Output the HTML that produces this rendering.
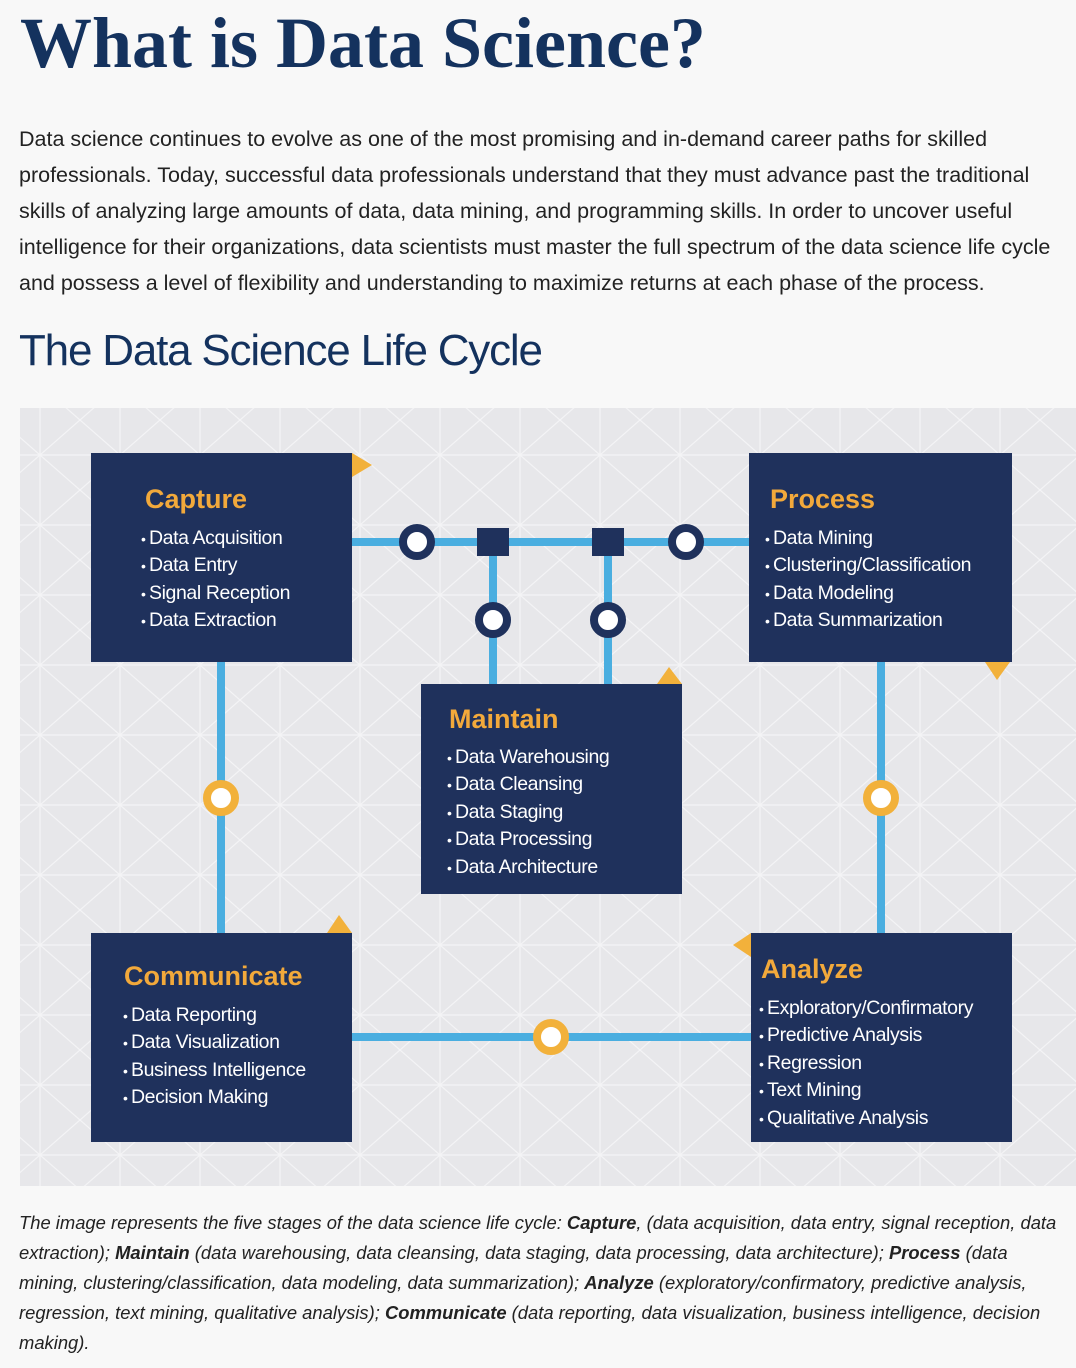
<!DOCTYPE html>
<html><head><meta charset="utf-8"><style>
body{margin:0;width:1076px;height:1368px;background:#f8f8f8;position:relative;overflow:hidden;font-family:"Liberation Sans",sans-serif;}
.a{position:absolute;white-space:nowrap;}
h1{position:absolute;left:20px;top:2px;margin:0;font-family:"Liberation Serif",serif;font-weight:bold;font-size:72px;color:#14325e;letter-spacing:0;}
h2{position:absolute;left:19px;top:326px;margin:0;font-weight:normal;font-size:44px;color:#14325e;letter-spacing:-1.2px;}
.p{left:19px;font-size:21.5px;color:#222;letter-spacing:0;}
.c{left:19px;font-size:18.4px;color:#222;font-style:italic;letter-spacing:0;}
.box{position:absolute;background:#1f315c;color:#fff;}
.box .t{position:absolute;color:#f2a93b;font-weight:bold;font-size:27px;}
.box ul{position:absolute;margin:0;padding:0;list-style:none;font-size:19.5px;line-height:27.4px;letter-spacing:-0.4px;}
.box li{height:27.4px;}
.box li:before{content:"• ";font-size:14px;line-height:0;}
</style></head><body>
<h1>What is Data Science?</h1>
<div class="a p" style="top:127px">Data science continues to evolve as one of the most promising and in-demand career paths for skilled</div>
<div class="a p" style="top:163px">professionals. Today, successful data professionals understand that they must advance past the traditional</div>
<div class="a p" style="top:199px">skills of analyzing large amounts of data, data mining, and programming skills. In order to uncover useful</div>
<div class="a p" style="top:235px">intelligence for their organizations, data scientists must master the full spectrum of the data science life cycle</div>
<div class="a p" style="top:271px">and possess a level of flexibility and understanding to maximize returns at each phase of the process.</div>
<h2>The Data Science Life Cycle</h2>
<svg class="a" style="left:20px;top:408px" width="1056" height="778" viewBox="20 408 1056 778">
<defs><pattern id="pt" width="80" height="70" patternUnits="userSpaceOnUse"><path d="M0 0L80 70M80 0L0 70M40 0L40 70M0 35L80 35" stroke="#f4f4f6" stroke-width="1.2" fill="none"/></pattern></defs>
<rect x="20" y="408" width="1056" height="778" fill="#e7e7ea"/>
<rect x="20" y="408" width="1056" height="778" fill="url(#pt)"/>
<g stroke="#4aaee0" stroke-width="8" fill="none">
<path d="M352 542H749M493 542V684M608 542V684M221 662V933M881 662V933M352 1037H751"/>
</g>
<rect x="477" y="528" width="32" height="28" fill="#1f315c"/>
<rect x="592" y="528" width="32" height="28" fill="#1f315c"/>
<g fill="#fff" stroke="#1f315c" stroke-width="8">
<circle cx="417" cy="542" r="14"/><circle cx="686" cy="542" r="14"/>
<circle cx="493" cy="620" r="14"/><circle cx="608" cy="620" r="14"/>
</g>
<g fill="#fff" stroke="#f2b13b" stroke-width="8">
<circle cx="221" cy="798" r="14"/><circle cx="881" cy="798" r="14"/><circle cx="551" cy="1037" r="14"/>
</g>
<g fill="#f2b13b">
<path d="M352 453L372 465L352 477Z"/>
<path d="M985 662L1010 662L997 680Z"/>
<path d="M657 684L682 684L669 667Z"/>
<path d="M327 933L352 933L339 915Z"/>
<path d="M751 933L751 957L733 945Z"/>
</g>
</svg>
<div class="box" style="left:91px;top:453px;width:261px;height:209px"><div class="t" style="left:54px;top:31px">Capture</div><ul style="left:50px;top:72px"><li>Data Acquisition</li><li>Data Entry</li><li>Signal Reception</li><li>Data Extraction</li></ul></div>
<div class="box" style="left:749px;top:453px;width:263px;height:209px"><div class="t" style="left:21px;top:31px">Process</div><ul style="left:16px;top:72px"><li>Data Mining</li><li>Clustering/Classification</li><li>Data Modeling</li><li>Data Summarization</li></ul></div>
<div class="box" style="left:421px;top:684px;width:261px;height:210px"><div class="t" style="left:28px;top:20px">Maintain</div><ul style="left:26px;top:60px"><li>Data Warehousing</li><li>Data Cleansing</li><li>Data Staging</li><li>Data Processing</li><li>Data Architecture</li></ul></div>
<div class="box" style="left:91px;top:933px;width:261px;height:209px"><div class="t" style="left:33px;top:28px">Communicate</div><ul style="left:32px;top:69px"><li>Data Reporting</li><li>Data Visualization</li><li>Business Intelligence</li><li>Decision Making</li></ul></div>
<div class="box" style="left:751px;top:933px;width:261px;height:209px"><div class="t" style="left:10px;top:21px">Analyze</div><ul style="left:8px;top:62px"><li>Exploratory/Confirmatory</li><li>Predictive Analysis</li><li>Regression</li><li>Text Mining</li><li>Qualitative Analysis</li></ul></div>
<div class="a c" style="top:1212px">The image represents the five stages of the data science life cycle: <b>Capture</b>, (data acquisition, data entry, signal reception, data</div>
<div class="a c" style="top:1242px">extraction); <b>Maintain</b> (data warehousing, data cleansing, data staging, data processing, data architecture); <b>Process</b> (data</div>
<div class="a c" style="top:1272px">mining, clustering/classification, data modeling, data summarization); <b>Analyze</b> (exploratory/confirmatory, predictive analysis,</div>
<div class="a c" style="top:1302px">regression, text mining, qualitative analysis); <b>Communicate</b> (data reporting, data visualization, business intelligence, decision</div>
<div class="a c" style="top:1332px">making).</div>
</body></html>
